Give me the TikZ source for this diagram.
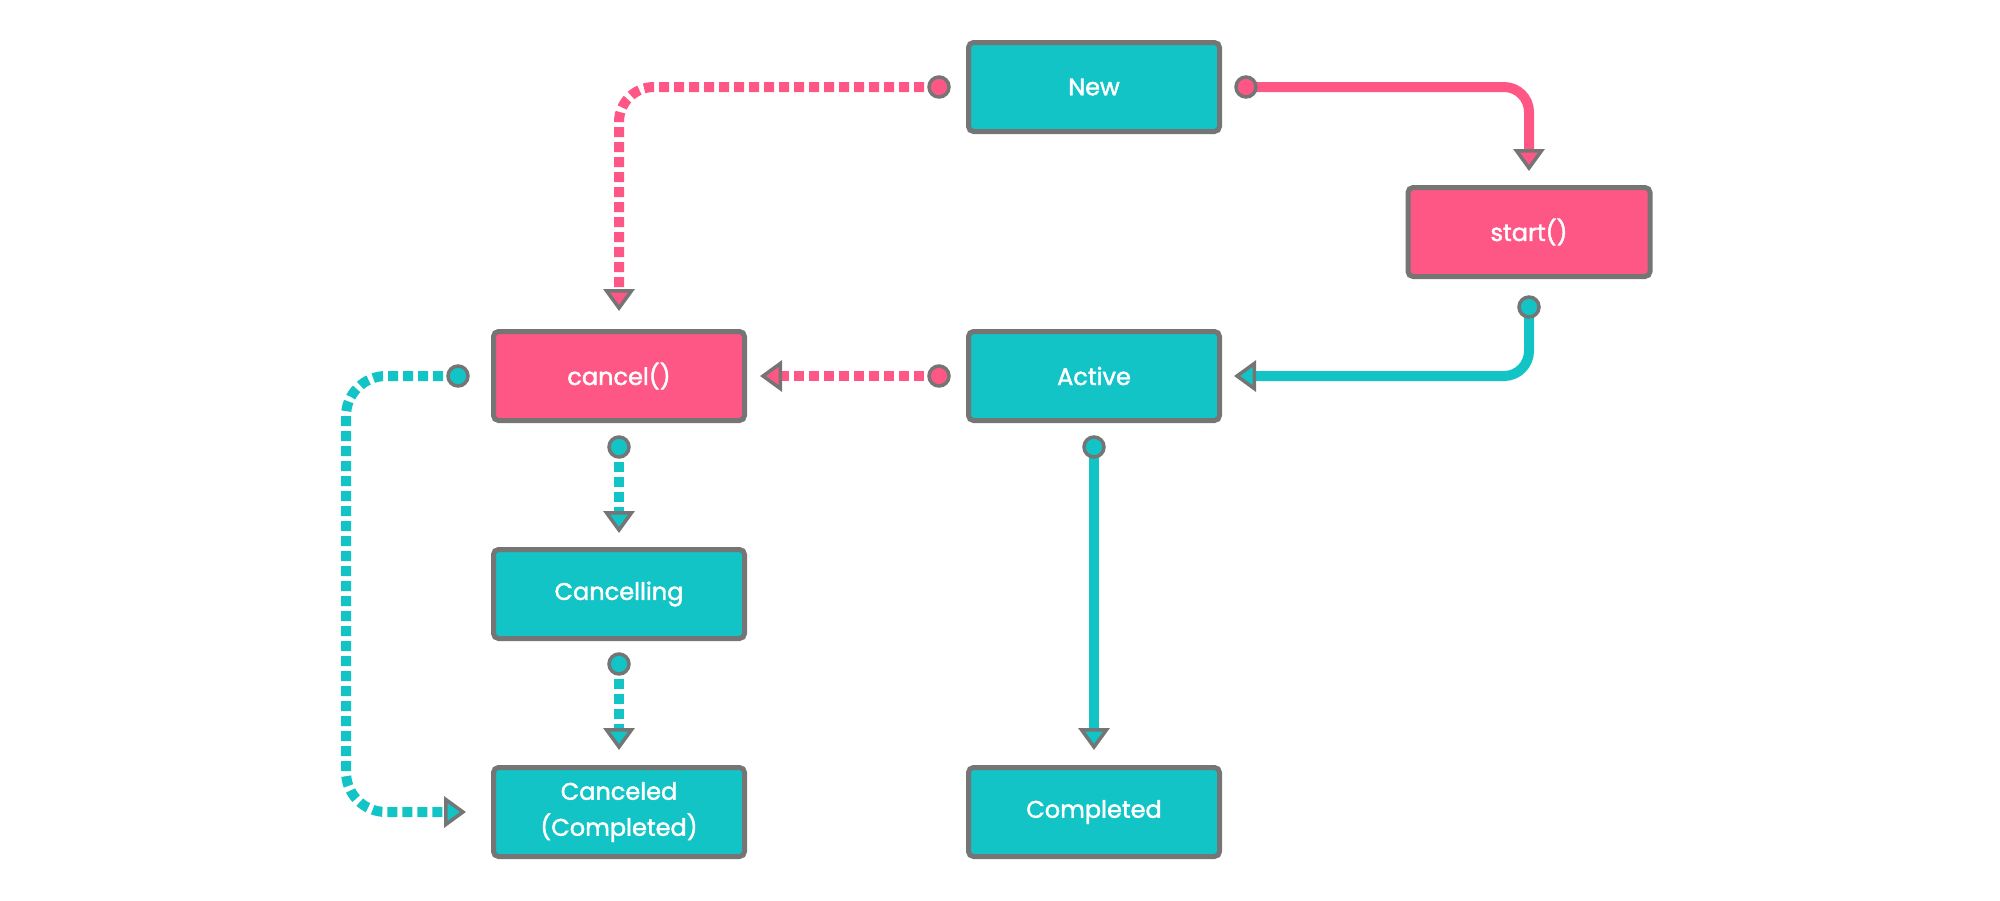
\documentclass[tikz,border=0pt]{standalone}
\usepackage{fontspec}
\setmainfont{Poppins}
\newfontfamily\labelfont{Poppins}[FakeBold=1.8]
\usetikzlibrary{arrows.meta,calc}
\definecolor{teal1}{HTML}{12C4C6}
\definecolor{pink1}{HTML}{FF5785}
\definecolor{edge1}{HTML}{757575}
\tikzset{
 state/.style={draw=edge1, line width=5pt, rounded corners=5pt, minimum width=251pt, minimum height=89pt, text=white, font=\labelfont\fontsize{24}{36}\selectfont, align=center, inner sep=0pt},
 tealbox/.style={state, fill=teal1},
 pinkbox/.style={state, fill=pink1},
 conn/.style={line width=10pt, draw=#1, -{Triangle[length=22pt,width=31pt,line width=3.5pt,color=edge1,fill=#1]}},
 dashconn/.style={conn=#1, dash pattern=on 10pt off 5pt},
 dotc/.style={circle, draw=edge1, line width=3.5pt, fill=#1, minimum size=20pt, inner sep=0pt},
}
\begin{document}
\begin{tikzpicture}[x=1pt,y=-1pt]
\useasboundingbox (0,0) rectangle (2000,900);
\node[tealbox] (new) at (1094,87) {New};
\node[pinkbox, minimum width=242pt] (start) at (1529,232) {start()};
\node[pinkbox] (cancel) at (619,376) {cancel()};
\node[tealbox] (active) at (1094,376) {Active};
\node[tealbox] (cancelling) at (619,594) {Cancelling};
\node[tealbox] (canceled) at (619,812) {Canceled\\(Completed)};
\node[tealbox] (completed) at (1094,812) {Completed};
\coordinate (c1) at ($(new.east)+(24,0)$);
\coordinate (c2) at ($(new.west)+(-27,0)$);
\coordinate (c3) at ($(start.south)+(0,28)$);
\coordinate (c4) at ($(active.west)+(-27,0)$);
\coordinate (c5) at ($(cancel.south)+(0,24)$);
\coordinate (c6) at ($(cancelling.south)+(0,23)$);
\coordinate (c7) at ($(cancel.west)+(-33,0)$);
\coordinate (k7) at ($(c7)+(-112,0)$);
\coordinate (c8) at ($(active.south)+(0,24)$);
\draw[conn=pink1, rounded corners=25pt, shorten >=14pt] (c1) -| (start.north);
\draw[dashconn=pink1, rounded corners=35pt, shorten >=18pt] (c2) -| (cancel.north);
\draw[conn=teal1, rounded corners=25pt, shorten >=12pt] (c3) |- (active.east);
\draw[dashconn=pink1, shorten >=13pt] (c4) -- (cancel.east);
\draw[dashconn=teal1, shorten >=14pt] (c5) -- (cancelling.north);
\draw[dashconn=teal1, shorten >=15pt] (c6) -- (canceled.north);
\draw[dashconn=teal1, rounded corners=40pt, shorten >=25pt] (c7) -- (k7) |- (canceled.west);
\draw[conn=teal1, shorten >=15pt] (c8) -- (completed.north);
\node[dotc=pink1] (d1) at (c1) {};
\node[dotc=pink1] (d2) at (c2) {};
\node[dotc=teal1] (d3) at (c3) {};
\node[dotc=pink1] (d4) at (c4) {};
\node[dotc=teal1] (d5) at (c5) {};
\node[dotc=teal1] (d6) at (c6) {};
\node[dotc=teal1] (d7) at (c7) {};
\node[dotc=teal1] (d8) at (c8) {};
\end{tikzpicture}
\end{document}
